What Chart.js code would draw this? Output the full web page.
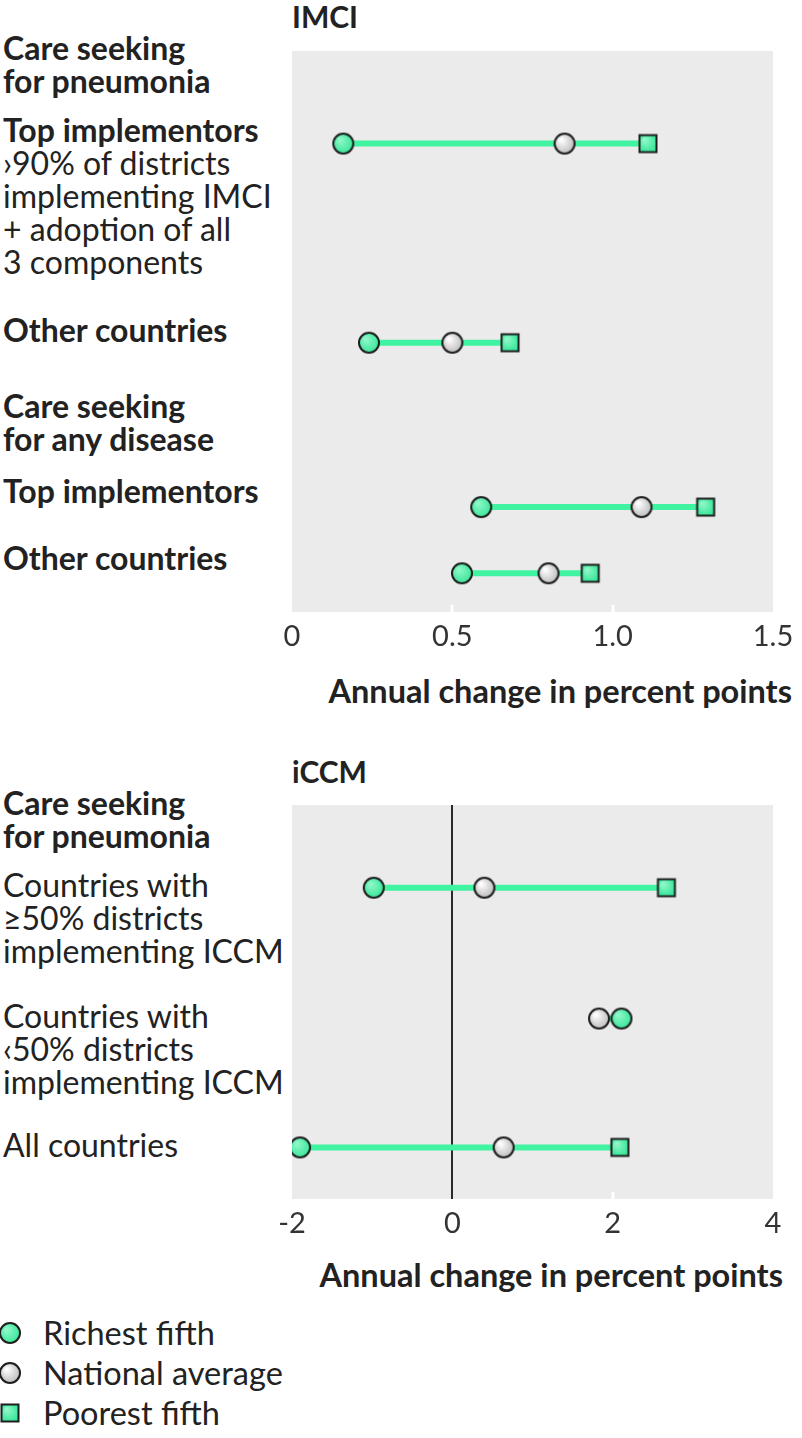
<!DOCTYPE html>
<html>
<head>
<meta charset="utf-8">
<script src="https://cdn.jsdelivr.net/npm/chart.js@4/dist/chart.umd.min.js"></script>
<style>
  body { margin: 0; background: #fff; font-family: Lato, sans-serif; color: #222; }
  #page { position: relative; width: 802px; height: 1438px; overflow: hidden; }
  .lbl { position: absolute; left: 3px; font-size: 32px; line-height: 33px; white-space: pre; }
  .b { font-weight: bold; }
  .panel-title { position: absolute; left: 292px; font-size: 30px; line-height: 33px; font-weight: bold; }
  .axis-title { position: absolute; font-size: 32.5px; line-height: 33px; font-weight: bold; white-space: nowrap; }
  canvas.chart { position: absolute; left: 262px; }
  .legend-row { position: absolute; left: 0; height: 33px; font-size: 32.5px; line-height: 33px; }
  .legend-row canvas { position: absolute; left: -2px; top: 5px; }
  .legend-row span { position: absolute; left: 43px; top: 0; white-space: nowrap; }
</style>
</head>
<body>
<div id="page">
  <div class="panel-title" style="top:0px">IMCI</div>
  <div class="lbl b" style="top:31px">Care seeking
for pneumonia</div>
  <div class="lbl" style="top:113px"><span class="b">Top implementors</span>
›90% of districts
implementing IMCI
+ adoption of all
3 components</div>
  <div class="lbl b" style="top:313px">Other countries</div>
  <div class="lbl b" style="top:389px">Care seeking
for any disease</div>
  <div class="lbl b" style="top:474px">Top implementors</div>
  <div class="lbl b" style="top:541px">Other countries</div>
  <canvas id="imciChart" class="chart" width="547" height="623" style="top:39px"></canvas>
  <div class="axis-title" style="top:674px; right:10px">Annual change in percent points</div>

  <div class="panel-title" style="top:755px">iCCM</div>
  <div class="lbl b" style="top:786px">Care seeking
for pneumonia</div>
  <div class="lbl" style="top:868px">Countries with
≥50% districts
implementing ICCM</div>
  <div class="lbl" style="top:999px">Countries with
‹50% districts
implementing ICCM</div>
  <div class="lbl" style="top:1128px">All countries</div>
  <canvas id="iccmChart" class="chart" width="547" height="456" style="top:793px"></canvas>
  <div class="axis-title" style="top:1258px; right:19px">Annual change in percent points</div>

  <div id="legend"></div>
</div>

<script>
// IMCI panel
const imciRows = ['Pneumonia: top implementors', 'Pneumonia: other countries', 'Any disease: top implementors', 'Any disease: other countries'];
const imciRichest  = [0.16, 0.24, 0.59, 0.53];
const imciNational = [0.85, 0.50, 1.09, 0.80];
const imciPoorest  = [1.11, 0.68, 1.29, 0.93];
const imciTickValues = [0, 0.5, 1, 1.5];
const imciTickLabels = ['0', '0.5', '1.0', '1.5'];
const imciRowPos = [0.165, 0.52, 0.813, 0.931]; // fraction of panel height

// iCCM panel
const iccmRows = ['≥50% districts implementing ICCM', '<50% districts implementing ICCM', 'All countries'];
const iccmRichest  = [-0.98, 2.11, -1.90];
const iccmNational = [0.40, 1.83, 0.64];
const iccmPoorest  = [2.67, null, 2.09];
const iccmTickValues = [-2, 0, 2, 4];
const iccmTickLabels = ['-2', '0', '2', '4'];
const iccmRowPos = [0.21, 0.542, 0.869];

const seriesNames = ['Richest fifth', 'National average', 'Poorest fifth'];

const LINE_GREEN = '#3ff3a0';
const PANEL_GRAY = '#ebebeb';

function makeMarker(shape, light, dark) {
  const c = document.createElement('canvas');
  c.width = c.height = 24;
  const g = c.getContext('2d');
  const m = 12, r = shape === 'circle' ? 10 : 8.5;
  const grad = g.createRadialGradient(m - 3.5, m - 4, 1, m, m, r * 1.2);
  grad.addColorStop(0, light);
  grad.addColorStop(1, dark);
  g.fillStyle = grad;
  g.strokeStyle = '#1e1e1e';
  g.lineWidth = 2;
  g.beginPath();
  if (shape === 'circle') g.arc(m, m, r, 0, Math.PI * 2);
  else g.rect(m - r, m - r, 2 * r, 2 * r);
  g.fill();
  g.stroke();
  return c;
}

const markers = [
  makeMarker('circle', '#8ff8c9', '#2fe494'),
  makeMarker('circle', '#ffffff', '#b4b4b4'),
  makeMarker('square', '#8ff8c9', '#2fe494'),
];

const panelBackground = {
  id: 'panelBackground',
  beforeDraw(chart) {
    const { ctx, chartArea: a } = chart;
    ctx.save();
    ctx.fillStyle = PANEL_GRAY;
    ctx.fillRect(a.left, a.top, a.right - a.left, a.bottom - a.top);
    ctx.restore();
  }
};

function buildChart(canvasId, rows, richest, national, poorest, rowPos, tickValues, tickLabels, zeroLine) {
  const series = [richest, national, poorest];
  const connectors = rows.map((name, i) => {
    const vals = series.map(s => s[i]).filter(v => v !== null);
    return {
      type: 'line',
      label: name,
      data: [{ x: Math.min(...vals), y: rowPos[i] }, { x: Math.max(...vals), y: rowPos[i] }],
      borderColor: LINE_GREEN,
      borderWidth: 6,
      pointRadius: 0,
      order: 10,
    };
  });
  const points = series.map((s, si) => ({
    type: 'scatter',
    label: seriesNames[si],
    data: s.map((v, i) => (v === null ? null : { x: v, y: rowPos[i] })).filter(p => p),
    pointStyle: markers[si],
    pointRadius: 11,
    order: [1, 3, 2][si],
  }));
  const min = tickValues[0], max = tickValues[tickValues.length - 1];
  const interior = v => v > min && v < max;

  return new Chart(document.getElementById(canvasId), {
    data: { datasets: [...points, ...connectors] },
    options: {
      responsive: false,
      animation: false,
      events: [],
      // wide enough to absorb the edge tick labels, so the plot area stays put
      layout: { padding: { left: 30, right: 36, top: 10, bottom: 0 } },
      plugins: { legend: { display: false }, tooltip: { enabled: false } },
      scales: {
        x: {
          type: 'linear',
          min: min,
          max: max,
          afterBuildTicks: s => { s.ticks = tickValues.map(v => ({ value: v })); },
          afterFit: s => { s.height = 50; },
          border: { display: false },
          grid: {
            drawOnChartArea: zeroLine,
            color: ctx => (zeroLine && ctx.tick && ctx.tick.value === 0 ? '#2a2a2a' : 'rgba(0,0,0,0)'),
            lineWidth: 2,
            tickLength: -7,
            tickWidth: 3,
            tickColor: ctx => (ctx.tick && interior(ctx.tick.value) && ctx.tick.value !== 0 ? '#ffffff' : 'rgba(0,0,0,0)'),
          },
          ticks: {
            padding: 14,
            color: '#333',
            font: { family: 'Lato', size: 29 },
            maxRotation: 0,
            callback: (v, i) => tickLabels[i],
          },
        },
        y: { type: 'linear', reverse: true, min: 0, max: 1, display: false },
      },
    },
    plugins: [panelBackground],
  });
}

buildChart('imciChart', imciRows, imciRichest, imciNational, imciPoorest, imciRowPos, imciTickValues, imciTickLabels, false);
buildChart('iccmChart', iccmRows, iccmRichest, iccmNational, iccmPoorest, iccmRowPos, iccmTickValues, iccmTickLabels, true);

// legend
const legend = document.getElementById('legend');
seriesNames.forEach((name, i) => {
  const row = document.createElement('div');
  row.className = 'legend-row';
  row.style.top = (1316 + i * 40) + 'px';
  const icon = document.createElement('canvas');
  icon.width = icon.height = 24;
  icon.getContext('2d').drawImage(markers[i], 0, 0);
  const txt = document.createElement('span');
  txt.textContent = name;
  row.appendChild(icon);
  row.appendChild(txt);
  legend.appendChild(row);
});
</script>
</body>
</html>
